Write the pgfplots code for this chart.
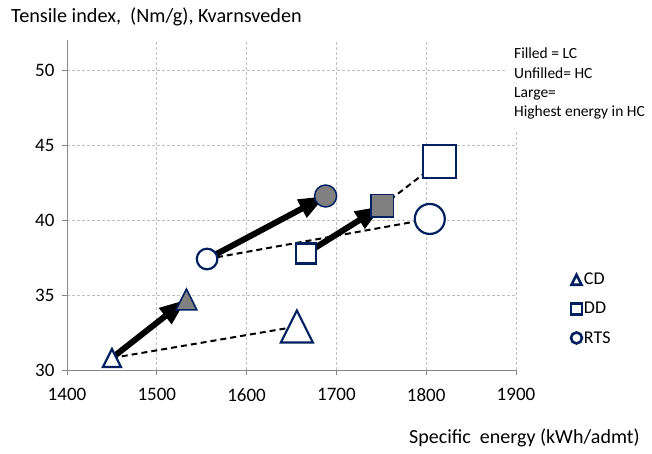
\documentclass[border=0pt]{standalone}
\usepackage{fontspec}
\setmainfont{Carlito}
\usepackage{pgfplots}
\pgfplotsset{compat=1.18}
\usetikzlibrary{arrows.meta}
\definecolor{navy}{RGB}{0,32,96}
\definecolor{mgray}{RGB}{128,128,128}
\definecolor{gridc}{RGB}{191,191,191}
\definecolor{axc}{RGB}{134,134,134}
\pgfdeclareplotmark{etri}{%
  \pgfpathmoveto{\pgfqpoint{0pt}{\pgfplotmarksize}}%
  \pgfpathlineto{\pgfqpoint{-\pgfplotmarksize}{-\pgfplotmarksize}}%
  \pgfpathlineto{\pgfqpoint{\pgfplotmarksize}{-\pgfplotmarksize}}%
  \pgfpathclose\pgfusepathqfillstroke}
\begin{document}
\begin{tikzpicture}
\path[use as bounding box] (0,0) rectangle (652bp,454bp);
\begin{axis}[
  at={(67bp,84bp)}, anchor=south west,
  scale only axis, width=449bp, height=330bp,
  xmin=1400, xmax=1900, ymin=30, ymax=52,
  xtick={1400,1500,...,1900}, ytick={30,35,...,50},
  axis x line*=bottom, axis y line*=left,
  axis line style={axc, line width=0.9bp},
  tick align=outside, major tick length=5bp,
  tick style={axc, line width=0.9bp},
  grid=major,
  major grid style={gridc, line width=0.8bp, dash pattern=on 3bp off 2bp},
  /pgf/number format/assume math mode=true,
  /pgf/number format/1000 sep={},
  ticklabel style={font=\fontsize{19bp}{22bp}\selectfont},
  xticklabel style={yshift=-10bp},
  yticklabel style={xshift=-4bp},
  legend style={draw=none, fill=none, at={(1.122,0.30)}, anchor=north west,
    font=\fontsize{18bp}{21bp}\selectfont, row sep=12bp, inner sep=0pt},
  legend cell align=left,
  clip=false,
]
% dashed connector lines
\addplot[black, line width=2bp, dash pattern=on 6bp off 4bp, forget plot] coordinates {(1450,30.8) (1656,32.9)};
\addplot[black, line width=2bp, dash pattern=on 6bp off 4bp, forget plot] coordinates {(1556,37.4) (1804,40.07)};
\addplot[black, line width=2bp, dash pattern=on 6bp off 4bp, forget plot] coordinates {(1751,40.94) (1815,43.9)};
% thick arrows
\addplot[black, line width=6bp, -{Triangle[length=27bp,width=19bp]}, forget plot] coordinates {(1450,30.8) (1533,34.7)};
\addplot[black, line width=6bp, -{Triangle[length=27bp,width=19bp]}, forget plot] coordinates {(1556,37.4) (1688,41.6)};
\addplot[black, line width=6bp, -{Triangle[length=27bp,width=19bp]}, forget plot] coordinates {(1666,37.76) (1751,40.94)};
% markers: CD
\addplot[only marks, mark=etri, mark size=9bp, draw=navy, fill=white, line width=2.2bp, forget plot] coordinates {(1450,30.8)};
\addplot[only marks, mark=etri, mark size=10.5bp, draw=navy, fill=mgray, line width=1.5bp, forget plot] coordinates {(1533,34.7)};
\addplot[only marks, mark=etri, mark size=16bp, draw=navy, fill=white, line width=2.2bp, forget plot] coordinates {(1656,32.9)};
% DD
\addplot[only marks, mark=square*, mark size=10bp, draw=navy, fill=white, line width=2.2bp, forget plot] coordinates {(1666,37.76)};
\addplot[only marks, mark=square*, mark size=11.3bp, draw=navy, fill=mgray, line width=1.5bp, forget plot] coordinates {(1751,40.94)};
\addplot[only marks, mark=square*, mark size=16.3bp, draw=navy, fill=white, line width=2.2bp, forget plot] coordinates {(1815,43.9)};
% RTS
\addplot[only marks, mark=*, mark size=10.3bp, draw=navy, fill=white, line width=2.2bp, forget plot] coordinates {(1556,37.4)};
\addplot[only marks, mark=*, mark size=11bp, draw=navy, fill=mgray, line width=1.5bp, forget plot] coordinates {(1688,41.6)};
\addplot[only marks, mark=*, mark size=15bp, draw=navy, fill=white, line width=2.2bp, forget plot] coordinates {(1804,40.07)};
% legend
\addlegendimage{only marks, mark=etri, mark size=5bp, draw=navy, fill=white, line width=2.6bp}
\addlegendentry{CD}
\addlegendimage{only marks, mark=square*, mark size=5.5bp, draw=navy, fill=white, line width=2.6bp}
\addlegendentry{DD}
\addlegendimage{only marks, mark=*, mark size=5.5bp, draw=navy, fill=white, line width=2.6bp}
\addlegendentry{RTS}
\end{axis}
\fill[white] (505bp,322bp) rectangle (652bp,424bp);
\begin{scope}[every node/.style={anchor=base west, inner sep=0pt, font=\fontsize{15.5bp}{19bp}\selectfont}]
\node at (514bp,395bp) {Filled = LC};
\node at (514bp,375bp) {Unfilled= HC};
\node at (514bp,356bp) {Large=};
\node at (514bp,337bp) {Highest energy in HC};
\end{scope}
\node[anchor=base west, inner sep=0pt, font=\fontsize{20.2bp}{24bp}\selectfont] at (11bp,431bp) {Tensile index,\ \ (Nm/g), Kvarnsveden};
\node[anchor=base west, inner sep=0pt, font=\fontsize{20bp}{24bp}\selectfont] at (409bp,11bp) {Specific\ \ energy (kWh/admt)};
\end{tikzpicture}
\end{document}
